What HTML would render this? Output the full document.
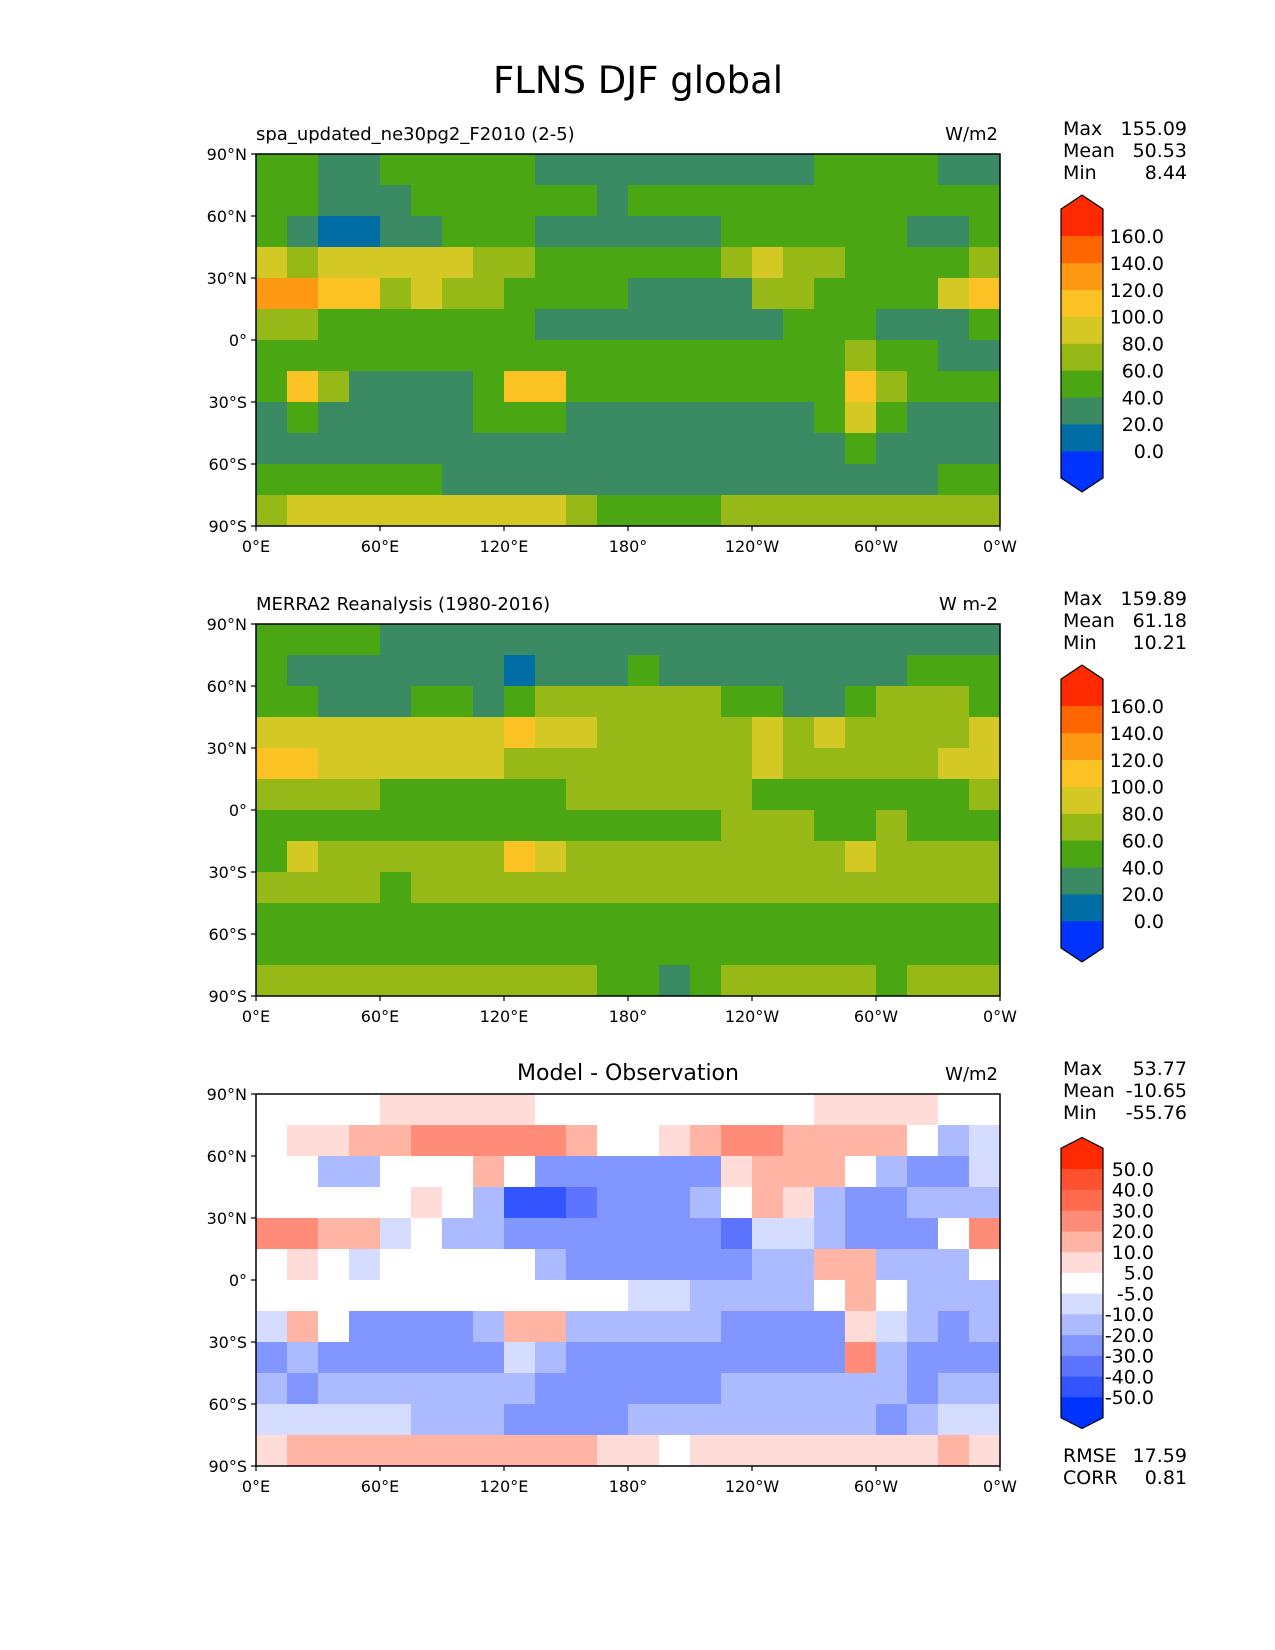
<!DOCTYPE html>
<html><head><meta charset="utf-8"><title>FLNS DJF global</title>
<style>
html,body{margin:0;padding:0;background:#fff;}
svg{display:block;font-family:"DejaVu Sans","Liberation Sans",sans-serif;}
</style></head>
<body>
<svg id="fig" width="1275" height="1650" viewBox="0 0 1275 1650" xmlns="http://www.w3.org/2000/svg">
<rect width="1275" height="1650" fill="#fff"/>
<text x="638" y="93" font-size="37" text-anchor="middle" fill="#000">FLNS DJF global</text>
</svg>
<script>
// ---- data ----
const lonTicks = ['0°E','60°E','120°E','180°','120°W','60°W','0°W'];
const latTicks = ['90°N','60°N','30°N','0°','30°S','60°S','90°S'];
const absLevels = [0,20,40,60,80,100,120,140,160];
const diffLevels = [-50,-40,-30,-20,-10,-5,5,10,20,30,40,50];
const absColors = ['#0033ff','#006ea4','#3a8a63','#4aa613','#96b917','#d4c824','#fbc223','#fd9912','#ff6600','#ff2a00'];
const diffColors = ['#0033ff','#3355ff','#5c74ff','#8296ff','#acbaff','#d4dcff','#ffffff','#ffdcd8','#ffb4a4','#ff8c78','#ff6b4d','#ff5030','#ff2a00'];
// model field, rows 90N->90S (15 deg), cols 0E->360 (15 deg)
const modelField = [
[42,42,38,38,45,45,45,45,45,38,38,38,38,38,38,38,38,38,45,45,45,45,38,38],
[45,42,35,35,38,40,45,45,45,42,40,38,40,45,48,50,50,48,45,45,48,45,42,45],
[50,35,18,18,35,35,40,45,45,32,32,32,32,32,32,50,50,50,50,45,40,38,38,48],
[80,75,85,90,95,90,80,70,60,48,42,42,42,42,45,65,90,75,60,48,45,45,50,65],
[125,130,110,105,75,85,70,60,50,45,42,42,38,35,35,35,75,65,55,45,42,45,80,115],
[70,65,55,50,50,50,50,45,45,35,35,35,35,35,35,35,35,40,50,50,35,35,35,55],
[45,55,50,45,45,45,45,45,50,48,45,45,45,45,45,42,40,40,45,65,55,40,38,38],
[40,110,60,38,38,38,38,55,110,105,45,42,42,42,42,42,42,42,45,100,60,42,40,40],
[38,50,35,35,35,35,35,40,55,50,38,35,35,35,35,35,35,35,40,95,50,35,35,35],
[32,25,30,32,32,32,30,30,28,22,20,22,25,28,30,32,32,32,35,42,30,28,30,30],
[45,45,45,48,45,40,38,35,28,25,25,25,30,35,35,35,35,35,35,30,22,35,45,50],
[70,80,85,85,85,80,85,85,85,80,75,55,45,40,55,70,75,75,70,70,65,70,75,70]
];
// observation field (MERRA2)
const obsField = [
[42,42,42,42,38,38,38,38,38,38,38,38,38,38,38,38,38,38,38,38,38,38,38,38],
[50,35,30,25,20,20,25,25,18,20,30,38,45,38,30,30,25,30,30,35,35,45,55,55],
[55,40,35,35,38,40,40,35,45,60,60,60,60,60,60,45,40,38,35,45,60,60,60,55],
[85,80,90,95,95,85,85,90,105,95,80,70,65,65,65,70,80,70,80,75,70,65,70,80],
[100,105,95,95,85,85,85,80,75,70,70,65,65,65,65,70,85,75,70,70,70,75,85,95],
[70,60,60,60,55,55,55,50,50,55,60,62,62,62,62,60,55,55,40,40,55,55,55,60],
[50,55,55,50,50,50,50,50,52,52,50,50,52,55,58,60,60,60,50,55,60,55,55,52],
[50,95,65,65,65,62,62,70,100,95,65,62,60,60,62,65,65,65,75,95,70,62,62,60],
[60,62,62,60,58,60,62,65,65,62,62,62,62,62,62,62,62,62,62,70,62,62,60,60],
[50,50,50,52,52,52,50,50,48,45,45,45,48,50,52,52,52,52,52,55,50,50,48,48],
[55,55,55,58,55,52,52,52,50,48,48,48,50,52,52,52,52,52,52,50,45,50,55,58],
[62,68,72,72,72,70,70,70,72,70,65,50,40,38,50,62,68,68,62,62,58,62,65,62]
];
const statsModel = [['Max','155.09'],['Mean','50.53'],['Min','8.44']];
const statsObs = [['Max','159.89'],['Mean','61.18'],['Min','10.21']];
const statsDiff = [['Max','53.77'],['Mean','-10.65'],['Min','-55.76']];
const statsExtra = [['RMSE','17.59'],['CORR','0.81']];

// ---- drawing ----
const NS='http://www.w3.org/2000/svg';
const svg=document.getElementById('fig');
function mk(tag, attrs, parent){
  const e=document.createElementNS(NS,tag);
  for(const k in attrs) e.setAttribute(k,attrs[k]);
  (parent||svg).appendChild(e); return e;
}
function binIndex(v, levels){
  let i=0; while(i<levels.length && v>=levels[i]) i++; return i;
}
const diffField = modelField.map((row,r)=>row.map((v,c)=>v-obsField[r][c]));

const panels=[
 {top:154, field:modelField, levels:absLevels, colors:absColors, left:'spa_updated_ne30pg2_F2010 (2-5)', center:'', unit:'W/m2', stats:statsModel, cbTop:236, cbBot:451, cbLabelX:1164, extra:null},
 {top:624, field:obsField, levels:absLevels, colors:absColors, left:'MERRA2 Reanalysis (1980-2016)', center:'', unit:'W m-2', stats:statsObs, cbTop:706, cbBot:921, cbLabelX:1164, extra:null},
 {top:1094, field:diffField, levels:diffLevels, colors:diffColors, left:'', center:'Model - Observation', unit:'W/m2', stats:statsDiff, cbTop:1169, cbBot:1397, cbLabelX:1154, extra:statsExtra}
];
const mapL=256, mapW=744, mapH=372;
const xOfLon = lon => mapL + lon/360*mapW;
const yOfLat = (top,lat) => top + (90-lat)/180*mapH;

panels.forEach((p,pi)=>{
  const g=mk('g',{});
  
  
  const nr=p.field.length, nc=p.field[0].length;
  const dLat=180/nr, dLon=360/nc;
  const cells=mk('g',{'shape-rendering':'crispEdges'},g);
  
  
  p.field.forEach((row,r)=>row.forEach((v,c)=>{
    const x0=xOfLon(c*dLon), x1=xOfLon((c+1)*dLon);
    const y0=yOfLat(p.top,90-r*dLat), y1=yOfLat(p.top,90-(r+1)*dLat);
    const rc=mk('rect',{x:x0,y:y0,width:x1-x0+0.6,height:y1-y0+0.6,fill:p.colors[binIndex(v,p.levels)]},cells);
    
    
  }));
  const fr=mk('rect',{x:mapL,y:p.top,width:mapW,height:mapH,fill:'none',stroke:'#000','stroke-width':1.5},g);
  
  
  latTicks.forEach((t,i)=>{
    const y=p.top+i*mapH/(latTicks.length-1);
    mk('line',{x1:mapL-5,x2:mapL,y1:y,y2:y,stroke:'#000','stroke-width':1.2},g);
    const tx=mk('text',{x:mapL-9,y:y+6,'font-size':16,'text-anchor':'end'},g);
    tx.textContent=t;
    
    
  });
  lonTicks.forEach((t,i)=>{
    const x=mapL+i*mapW/(lonTicks.length-1);
    mk('line',{x1:x,x2:x,y1:p.top+mapH,y2:p.top+mapH+5,stroke:'#000','stroke-width':1.2},g);
    const tx=mk('text',{x:x,y:p.top+mapH+26,'font-size':16,'text-anchor':'middle'},g);
    tx.textContent=t;
    
    
  });
  if(p.left){
    const t=mk('text',{x:mapL,y:p.top-14,'font-size':18},g);
    t.textContent=p.left;
    
    
  }
  if(p.center){
    const t=mk('text',{x:mapL+mapW/2,y:p.top-14,'font-size':22,'text-anchor':'middle'},g);
    t.textContent=p.center;
    
    
  }
  const u=mk('text',{x:mapL+mapW-2,y:p.top-14,'font-size':18,'text-anchor':'end'},g);
  u.textContent=p.unit;
  
  
  p.stats.forEach((s,i)=>{
    const y=p.top-19+i*22;
    const a=mk('text',{x:1063,y:y,'font-size':19},g); a.textContent=s[0];
    
    
    const b=mk('text',{x:1187,y:y,'font-size':19,'text-anchor':'end'},g); b.textContent=s[1];
    
    
  });
  if(p.extra){
    p.extra.forEach((s,i)=>{
      const y=p.top+368+i*22;
      const a=mk('text',{x:1063,y:y,'font-size':19},g); a.textContent=s[0];
      
      
      const b=mk('text',{x:1187,y:y,'font-size':19,'text-anchor':'end'},g); b.textContent=s[1];
      
      
    });
  }
  const cb=mk('g',{},g);
  
  
  const cx0=1061, cx1=1103, cxm=(cx0+cx1)/2;
  const nb=p.levels.length-1, bh=(p.cbBot-p.cbTop)/nb;
  const ext=bh, tri=bh*0.52;
  mk('polygon',{points:`${cx0},${p.cbBot} ${cx1},${p.cbBot} ${cx1},${p.cbBot+ext} ${cxm},${p.cbBot+ext+tri} ${cx0},${p.cbBot+ext}`,fill:p.colors[0]},cb);
  for(let i=0;i<nb;i++){
    const y1=p.cbBot-i*bh, y0=y1-bh;
    mk('rect',{x:cx0,y:y0-0.3,width:cx1-cx0,height:bh+0.6,fill:p.colors[i+1]},cb);
  }
  mk('polygon',{points:`${cx0},${p.cbTop} ${cx1},${p.cbTop} ${cx1},${p.cbTop-ext} ${cxm},${p.cbTop-ext-tri} ${cx0},${p.cbTop-ext}`,fill:p.colors[p.colors.length-1]},cb);
  mk('polygon',{points:`${cx0},${p.cbTop-ext} ${cxm},${p.cbTop-ext-tri} ${cx1},${p.cbTop-ext} ${cx1},${p.cbBot+ext} ${cxm},${p.cbBot+ext+tri} ${cx0},${p.cbBot+ext}`,fill:'none',stroke:'#000','stroke-width':1.2},cb);
  p.levels.forEach((lv,i)=>{
    const y=p.cbBot-i*bh;
    const t=mk('text',{x:p.cbLabelX,y:y+7,'font-size':19,'text-anchor':'end'},cb);
    t.textContent=lv.toFixed(1);
    
    
  });
});
</script>
</body></html>
